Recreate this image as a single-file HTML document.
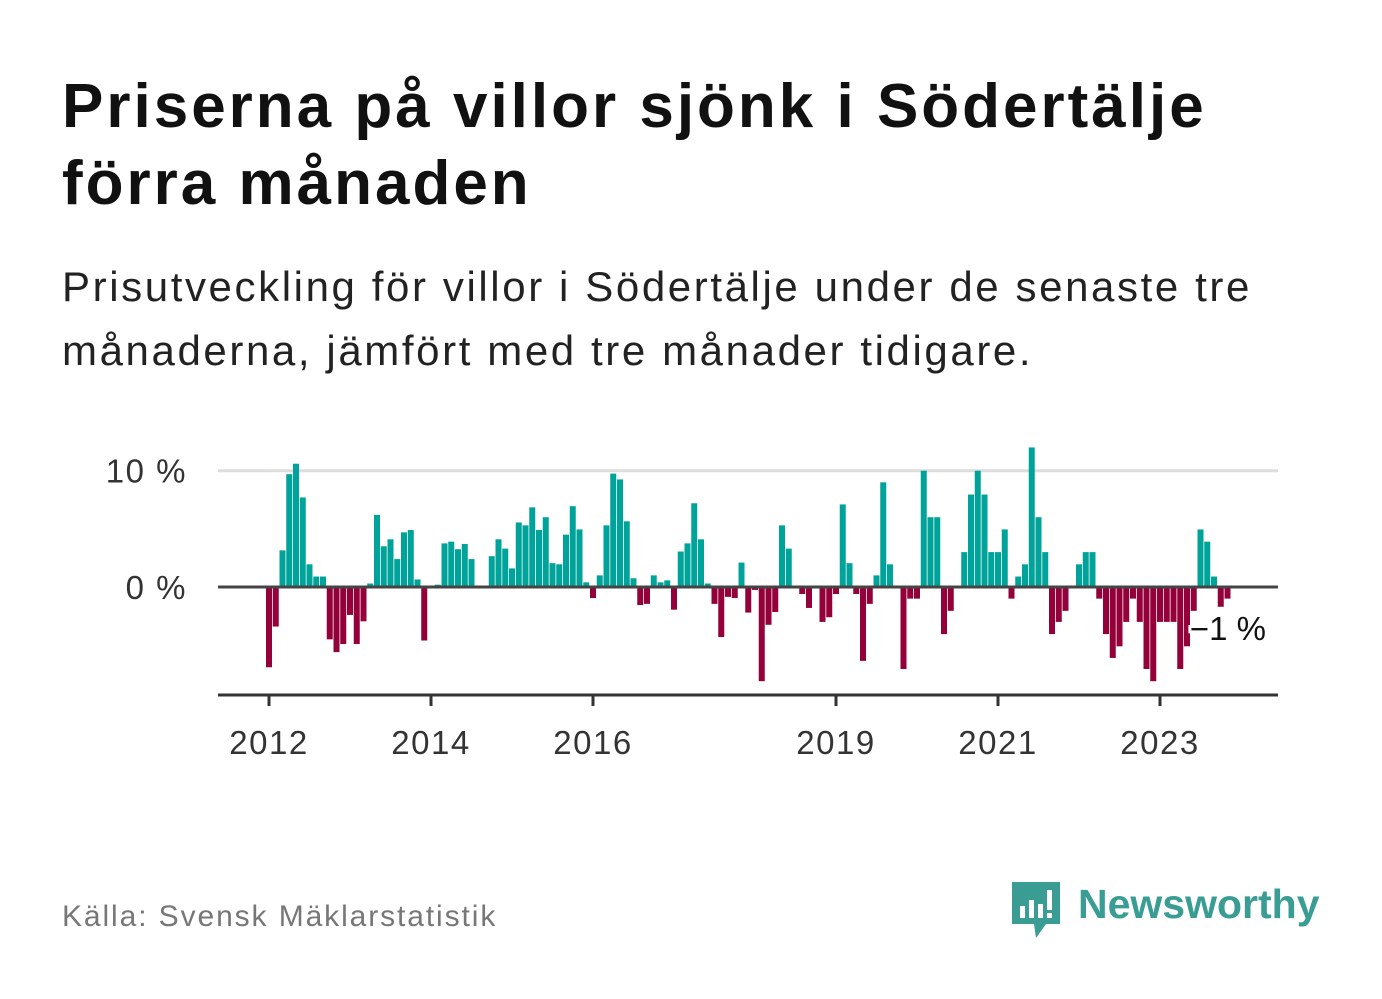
<!DOCTYPE html>
<html><head><meta charset="utf-8">
<style>
html,body{margin:0;padding:0;background:#fff;}
body{width:1382px;height:999px;position:relative;overflow:hidden;font-family:"Liberation Sans",sans-serif;color:#111;}
#title{position:absolute;left:62px;top:68px;font-size:62px;font-weight:bold;line-height:77px;margin:0;color:#111;letter-spacing:3px;}
#subtitle{position:absolute;left:62px;top:255px;font-size:42px;line-height:64px;margin:0;color:#222;letter-spacing:2.6px;}
#source{position:absolute;left:62px;top:900px;font-size:30px;color:#777;letter-spacing:1.9px;}
#logo{position:absolute;left:1010px;top:878px;}
svg text{font-family:"Liberation Sans",sans-serif;}
</style></head>
<body>
<h1 id="title">Priserna på villor sjönk i Södertälje<br>förra månaden</h1>
<p id="subtitle">Prisutveckling för villor i Södertälje under de senaste tre<br>månaderna, jämfört med tre månader tidigare.</p>
<svg id="chart" width="1382" height="999" style="position:absolute;left:0;top:0"></svg>
<div id="source">Källa: Svensk Mäklarstatistik</div>
<div id="logo">
<svg width="320" height="64">
<path d="M2 4 H50 V46 H36 L26 60 L24 46 H2 Z" fill="#3a9d94"/>
<rect x="10" y="28" width="5" height="12" fill="#fff"/><rect x="19" y="22" width="5" height="18" fill="#fff"/><rect x="28" y="26" width="5" height="14" fill="#fff"/><rect x="37" y="12" width="5" height="20" fill="#fff"/><rect x="37" y="35" width="5" height="5" fill="#fff"/>
<text x="68" y="40" font-size="41" font-weight="bold" fill="#3a9d94">Newsworthy</text>
</svg></div>
<script>
const values=[-6.9,-3.4,3.15,9.7,10.6,7.7,1.95,0.9,0.9,-4.5,-5.6,-4.9,-2.4,-4.9,-2.95,0.3,6.2,3.5,4.1,2.4,4.7,4.9,0.65,-4.6,0,0.2,3.75,3.9,3.25,3.7,2.4,0,0,2.65,4.1,3.3,1.6,5.55,5.3,6.85,4.9,6.0,2.05,1.95,4.5,6.95,4.95,0.4,-0.95,1.0,5.3,9.75,9.25,5.65,0.75,-1.55,-1.45,1.0,0.4,0.57,-1.95,3.05,3.75,7.2,4.1,0.3,-1.45,-4.3,-0.85,-0.95,2.1,-2.2,-0.25,-8.1,-3.25,-2.15,5.3,3.3,0,-0.6,-1.8,0,-3.0,-2.6,-0.6,7.1,2.05,-0.6,-6.35,-1.45,1.0,9.0,1.95,0,-7.05,-1.0,-1.0,10.0,6.0,6.0,-4.05,-2.05,0,3.0,7.95,10.0,7.95,3.0,3.0,4.95,-1.0,0.9,1.95,12.0,6.0,3.0,-4.05,-3.0,-2.05,0,1.95,3.0,3.0,-1.0,-4.05,-6.1,-5.1,-3.0,-1.0,-3.0,-7.05,-8.1,-3.0,-3.0,-3.0,-7.05,-5.1,-2.05,4.95,3.9,0.9,-1.7,-1.0];
const startYear=2012;
const yTicks=[0,10];
const yTickLabels=["0 %","10 %"];
const xTickYears=[2012,2014,2016,2019,2021,2023];
const lastLabel="−1 %";

const NS="http://www.w3.org/2000/svg";
const svg=document.getElementById('chart');
const x0=269,monthW=6.75,yZero=587,pxPer=11.63;
const xs=m=>x0+monthW*m;
const ys=v=>yZero-v*pxPer;
function mk(tag,attrs){const e=document.createElementNS(NS,tag);for(const k in attrs)e.setAttribute(k,attrs[k]);svg.appendChild(e);return e;}
yTicks.forEach((t,i)=>{
  if(t!==0){const g=mk('line',{x1:218,x2:1278,y1:ys(t),y2:ys(t),stroke:'#dddddd','stroke-width':3});
  
  }
  const tx=mk('text',{x:187,y:ys(t)+12,'font-size':33,'text-anchor':'end',fill:'#333','letter-spacing':1.5});
  tx.textContent=yTickLabels[i];
  
  
});
values.forEach((v,m)=>{
  if(v===0)return;
  const y=Math.min(ys(v),yZero),h=Math.abs(ys(v)-yZero);
  const r=mk('rect',{x:xs(m)-3,y:y,width:6,height:h,fill:v>0?'#00a39a':'#94003a'});
  
  
});
const z=mk('line',{x1:218,x2:1278,y1:yZero,y2:yZero,stroke:'#444','stroke-width':3});


const ax=mk('line',{x1:218,x2:1278,y1:695,y2:695,stroke:'#333','stroke-width':3});


xTickYears.forEach(yr=>{
  const x=xs((yr-startYear)*12);
  const t=mk('line',{x1:x,x2:x,y1:695,y2:706,stroke:'#333','stroke-width':3});
  
  
  const tx=mk('text',{x:x,y:754,'font-size':33,'text-anchor':'middle',fill:'#333','letter-spacing':1.5});
  tx.textContent=yr;
  
  
});
const lbl=mk('text',{x:1266,y:640,'font-size':33,'text-anchor':'end',fill:'#111',stroke:'#fff','stroke-width':6,'paint-order':'stroke'});
lbl.textContent=lastLabel;


</script>
</body></html>
